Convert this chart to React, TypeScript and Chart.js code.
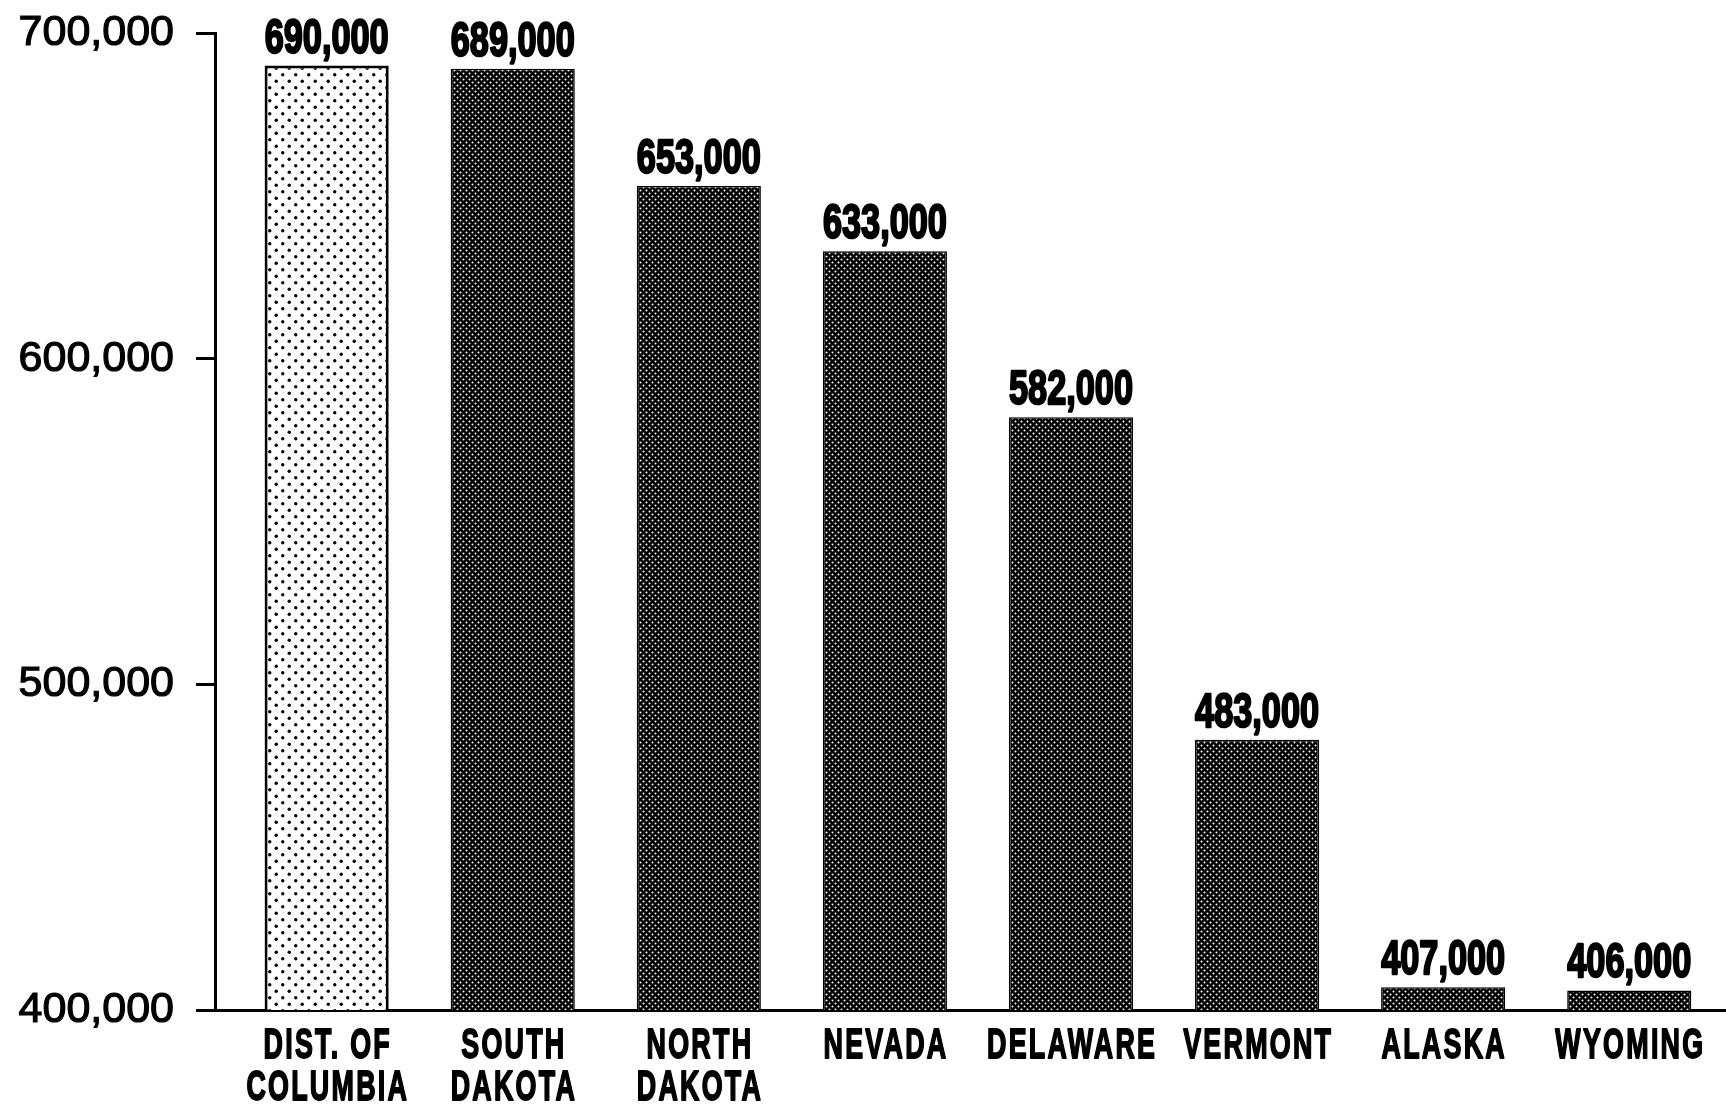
import { useEffect, useRef } from "react";
import { Chart, registerables } from "chart.js";

Chart.register(...registerables);

// Categories (multi-line names) and values
const states: string[][] = [
  ["DIST. OF", "COLUMBIA"],
  ["SOUTH", "DAKOTA"],
  ["NORTH", "DAKOTA"],
  ["NEVADA"],
  ["DELAWARE"],
  ["VERMONT"],
  ["ALASKA"],
  ["WYOMING"],
];
const values: number[] = [690000, 689000, 653000, 633000, 582000, 483000, 407000, 406000];
const yTicks: number[] = [400000, 500000, 600000, 700000];

const fmt = (v: number) => v.toLocaleString("en-US");

// Halftone tiles for the bar fills
function dotPattern(size: number, bg: string, dot: string, r: number): CanvasPattern | string {
  const c = document.createElement("canvas");
  c.width = size;
  c.height = size;
  const g = c.getContext("2d");
  if (!g) return bg;
  g.fillStyle = bg;
  g.fillRect(0, 0, size, size);
  g.fillStyle = dot;
  const pts = [
    [size * 0.25, size * 0.25],
    [size * 0.75, size * 0.75],
  ];
  for (const [x, y] of pts) {
    g.beginPath();
    g.arc(x, y, r, 0, Math.PI * 2);
    g.fill();
  }
  const p = g.createPattern(c, "repeat");
  return p || bg;
}

function drawCondensed(
  ctx: CanvasRenderingContext2D,
  text: string,
  x: number,
  y: number,
  font: string,
  sx: number,
  spacing: number,
  stroke: number
) {
  ctx.save();
  ctx.translate(x, y);
  ctx.scale(sx, 1);
  ctx.font = font;
  (ctx as any).letterSpacing = spacing + "px";
  ctx.textAlign = "center";
  ctx.textBaseline = "alphabetic";
  ctx.fillStyle = "#000";
  ctx.strokeStyle = "#000";
  ctx.lineWidth = stroke;
  ctx.lineJoin = "round";
  ctx.fillText(text, spacing / 2, 0);
  ctx.strokeText(text, spacing / 2, 0);
  ctx.restore();
}

// Value labels above the bars and state names under the baseline
const labelPlugin = {
  id: "barLabels",
  afterDatasetsDraw(chart: any) {
    const ctx: CanvasRenderingContext2D = chart.ctx;
    const meta = chart.getDatasetMeta(0);
    meta.data.forEach((bar: any, i: number) => {
      drawCondensed(ctx, fmt(values[i]), bar.x, bar.y - 13, 'bold 49px "Liberation Sans"', 0.7, 0, 2.4);
    });
    const xScale = chart.scales.x;
    const bottom = chart.chartArea.bottom;
    states.forEach((lines, i) => {
      const x = xScale.getPixelForValue(i);
      lines.forEach((line, j) => {
        drawCondensed(ctx, line, x, bottom + 48 + j * 42, 'bold 42px "Liberation Sans"', 0.64, 3.5, 1.8);
      });
    });
  },
};

export default function App() {
  const ref = useRef<HTMLCanvasElement | null>(null);

  useEffect(() => {
    document.body.style.margin = "0";
    const canvas = ref.current;
    if (!canvas) return;

    const light = dotPattern(13, "#ffffff", "#000000", 1.7);
    const dark = dotPattern(6, "#000000", "#ffffff", 1.0);

    const chart = new Chart(canvas, {
      type: "bar",
      data: {
        datasets: [
          {
            data: values.map((v, i) => ({ x: i, y: v })),
            backgroundColor: values.map((_, i) => (i === 0 ? light : dark)) as any,
            borderColor: "#000",
            borderWidth: values.map((_, i) => (i === 0 ? 3 : 1.5)),
            barPercentage: 0.667,
            categoryPercentage: 1,
          },
        ],
      },
      options: {
        animation: false,
        responsive: true,
        maintainAspectRatio: false,
        layout: { padding: { top: 33, left: 0, right: 0, bottom: 87 } },
        plugins: {
          legend: { display: false },
          tooltip: { enabled: false },
        },
        scales: {
          x: {
            type: "linear",
            offset: false,
            min: -0.6,
            max: 7.52,
            afterBuildTicks: (scale: any) => {
              scale.ticks = values.map((_, i) => ({ value: i }));
            },
            grid: { display: false, offset: false },
            ticks: { display: false },
            border: { display: true, color: "#000", width: 3 },
          },
          y: {
            min: yTicks[0],
            max: yTicks[yTicks.length - 1],
            afterBuildTicks: (scale: any) => {
              scale.ticks = yTicks.map((v) => ({ value: v }));
            },
            afterFit: (scale: any) => {
              scale.width = 215;
              scale.paddingTop = 0;
              scale.paddingBottom = 0;
            },
            grid: {
              drawOnChartArea: false,
              drawTicks: true,
              tickLength: 19,
              tickWidth: 3,
              color: "#000",
            },
            border: { display: true, color: "#000", width: 3 },
            ticks: {
              padding: 22,
              color: "#000",
              textStrokeColor: "#000",
              textStrokeWidth: 1.2,
              font: { family: '"Liberation Sans"', size: 43 },
              callback: (v: any) => fmt(Number(v)),
            },
          },
        },
      },
      plugins: [labelPlugin],
    });

    return () => chart.destroy();
  }, []);

  return (
    <div style={{ width: 1726, height: 1105, position: "relative", background: "#fff" }}>
      <canvas ref={ref} />
    </div>
  );
}
